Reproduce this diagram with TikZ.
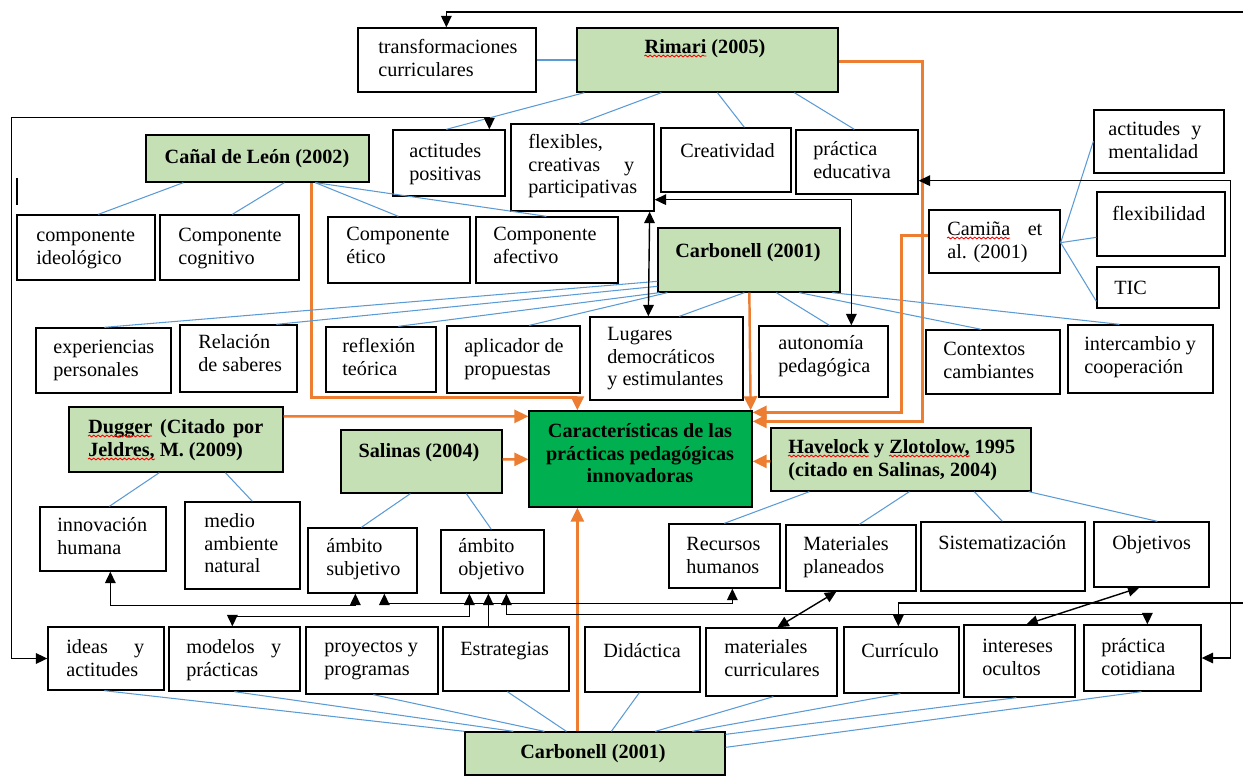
\documentclass[tikz,border=0pt]{standalone}
\usepackage{fontspec}
\setmainfont{Liberation Serif}
\usetikzlibrary{fit,arrows.meta,decorations.pathmorphing}
\definecolor{lgreen}{HTML}{C5E0B4}
\definecolor{dgreen}{HTML}{00B050}
\definecolor{lblue}{HTML}{5B9BD5}
\definecolor{orng}{HTML}{ED7D31}
\newcommand\fnt{\fontsize{11.5}{13}\selectfont}
\newcommand\strt{\rule{0pt}{9pt}}
\begin{document}
\begin{tikzpicture}[x=0.02cm,y=-0.02cm,
 box/.style={draw=black, line width=0.75pt, inner sep=0pt, fill=white},
 gbox/.style={box, fill=lgreen},
 dbox/.style={box, fill=dgreen},
 tx/.style={anchor=north west, inner sep=0pt, font=\fnt, align=left},
 txb/.style={tx, font=\fnt\bfseries},
 txc/.style={anchor=north, inner sep=0pt, font=\fnt\bfseries, align=center},
 bl/.style={draw=lblue, line width=0.6pt},
 og/.style={draw=orng, line width=1.4pt, -{Triangle[length=8pt,width=7.5pt]}},
 bk/.style={draw=black, line width=0.8pt, -{Triangle[length=6.5pt,width=6pt]}},
 bkk/.style={draw=black, line width=0.8pt, {Triangle[length=6.5pt,width=6pt]}-{Triangle[length=6.5pt,width=6pt]}},
 pl/.style={draw=black, line width=0.8pt},
 rw/.style={draw=red, line width=0.5pt, decorate, decoration={snake, amplitude=0.5pt, segment length=2.5pt}},
]
\useasboundingbox (0,0) rectangle (1243,777);

% ---------- boxes ----------
\node[box,  fit={(358,28)(536,92)}] (tr) {};
\node[gbox, fit={(577,28)(838,92)}] (rim) {};
\node[gbox, fit={(146,135)(369,182)}] (cl) {};
\node[box,  fit={(393,130)(505,196)}] (ap) {};
\node[box,  fit={(511,124)(654,211)}] (fx) {};
\node[box,  fit={(661,128)(791,192)}] (cr) {};
\node[box,  fit={(796,130)(918,194)}] (pe) {};
\node[box,  fit={(1094,110)(1224,173)}] (am) {};
\node[box,  fit={(17,215)(155,280)}] (ci) {};
\node[box,  fit={(160,215)(299,280)}] (cc) {};
\node[box,  fit={(328,217)(470,283)}] (ce) {};
\node[box,  fit={(476,217)(618,283)}] (ca) {};
\node[gbox, fit={(658,228)(840,292)}] (cm) {};
\node[box,  fit={(929,210)(1060,273)}] (cam) {};
\node[box,  fit={(1097,192)(1225,256)}] (fl) {};
\node[box,  fit={(1097,267)(1219,308)}] (tic) {};
\node[box,  fit={(36,328)(171,393)}] (ep) {};
\node[box,  fit={(180,325)(297,392)}] (rs) {};
\node[box,  fit={(326,327)(436,392)}] (rt) {};
\node[box,  fit={(447,326)(580,393)}] (apl) {};
\node[box,  fit={(590,317)(743,400)}] (lg) {};
\node[box,  fit={(759,326)(888,397)}] (au) {};
\node[box,  fit={(926,330)(1060,394)}] (cx) {};
\node[box,  fit={(1068,325)(1213,393)}] (ic) {};
\node[gbox, fit={(69,407)(283,472)}] (dg) {};
\node[gbox, fit={(341,430)(502,493)}] (sal) {};
\node[dbox, fit={(529,411)(752,507)}] (car) {};
\node[gbox, fit={(771,428)(1031,491)}] (hv) {};
\node[box,  fit={(40,507)(166,571)}] (ih) {};
\node[box,  fit={(185,502)(300,589)}] (ma) {};
\node[box,  fit={(308,528)(417,593)}] (asu) {};
\node[box,  fit={(441,530)(544,593)}] (ao) {};
\node[box,  fit={(669,524)(780,588)}] (rh) {};
\node[box,  fit={(786,525)(916,591)}] (mp) {};
\node[box,  fit={(921,522)(1085,591)}] (si) {};
\node[box,  fit={(1094,522)(1209,587)}] (ob) {};
\node[box,  fit={(48,627)(164,690)}] (ia) {};
\node[box,  fit={(169,627)(300,691)}] (mo) {};
\node[box,  fit={(306,627)(438,694)}] (pp) {};
\node[box,  fit={(443,627)(569,691)}] (es) {};
\node[box,  fit={(585,627)(700,692)}] (di) {};
\node[box,  fit={(706,628)(837,696)}] (mc) {};
\node[box,  fit={(844,627)(959,693)}] (cu) {};
\node[box,  fit={(964,625)(1075,697)}] (io) {};
\node[box,  fit={(1084,625)(1201,691)}] (pc) {};
\node[gbox, fit={(465,732)(725,775)}] (cb) {};

% ---------- connectors ----------
\coordinate (eR1) at (1243,12);
\coordinate (eR2) at (1243,603);
\coordinate (s1) at (17,178);
\coordinate (s2) at (17,205);
\draw[bk] (eR1) -| ([shift={(89,0)}]tr.north west);
\draw[bl] (tr.east) -- (rim.west);
\draw[bl] ([shift={(8,0)}]rim.south west) -- ([shift={(54,0)}]ap.north west);
\draw[bl] ([shift={(85,0)}]rim.south west) -- ([shift={(69,0)}]fx.north west);
\draw[bl] ([shift={(141,0)}]rim.south west) -- ([shift={(84,0)}]cr.north west);
\draw[bl] ([shift={(218,0)}]rim.south west) -- ([shift={(59,0)}]pe.north west);
\draw[og] ([shift={(0,34)}]rim.north east) -| ([shift={(170,11)}]car.north east) -- ([shift={(0,11)}]car.north east);

\draw[bkk] ([shift={(97,0)}]ap.north west) -- ([shift={(97,-12)}]ap.north west) -| ([shift={(-36,0)}]ia.west) -- (ia.west);
\draw[pl] (s1) -- (s2);

\draw[bl] ([shift={(38,0)}]cl.south west) -- ([shift={(82,0)}]ci.north west);
\draw[bl] ([shift={(139,0)}]cl.south west) -- ([shift={(73,0)}]cc.north west);
\draw[bl] ([shift={(170,0)}]cl.south west) -- ([shift={(71,0)}]ce.north west);
\draw[bl] ([shift={(170,0)}]cl.south west) -- ([shift={(71,0)}]ca.north west);
\draw[og] ([shift={(166,0)}]cl.south west) |- ([shift={(49,-13)}]car.north west) -- ([shift={(49,0)}]car.north west);

\draw[bl] ([shift={(0,54)}]cm.north west) -- ([shift={(69,0)}]ep.north west);
\draw[bl] ([shift={(0,59)}]cm.north west) -- ([shift={(97,0)}]rs.north west);
\draw[bl] ([shift={(2,0)}]cm.south west) -- ([shift={(73,0)}]rt.north west);
\draw[bl] ([shift={(10,0)}]cm.south west) -- ([shift={(83,0)}]apl.north west);
\draw[bl] ([shift={(87,0)}]cm.south west) -- ([shift={(90,0)}]lg.north west);
\draw[bl] ([shift={(119,0)}]cm.south west) -- ([shift={(71,0)}]au.north west);
\draw[bl] ([shift={(142,0)}]cm.south west) -- ([shift={(56,0)}]cx.north west);
\draw[bl] ([shift={(175,0)}]cm.south west) -- ([shift={(52,0)}]ic.north west);
\draw[og] ([shift={(92,0)}]cm.south west) -- ([shift={(-2,0)}]car.north east);
\draw[bkk] ([shift={(-5,0)}]fx.south east) -- ([shift={(59,0)}]lg.north west);
\draw[bkk] ([shift={(0,-12)}]fx.south east) -| ([shift={(93,0)}]au.north west);

\draw[bl] ([shift={(0,-31)}]cam.south east) -- ([shift={(0,32)}]am.north west);
\draw[bl] ([shift={(0,-31)}]cam.south east) -- ([shift={(0,46)}]fl.north west);
\draw[bl] ([shift={(0,-31)}]cam.south east) -- ([shift={(0,35)}]tic.north west);
\draw[og] ([shift={(0,26)}]cam.north west) -| ([shift={(149,2)}]car.north east) -- ([shift={(0,2)}]car.north east);

\draw[og] ([shift={(0,10)}]dg.north east) -- ([shift={(0,6)}]car.north west);
\draw[og] ([shift={(0,30)}]sal.north east) -- ([shift={(0,49)}]car.north west);
\draw[og] ([shift={(0,34)}]hv.north west) -- ([shift={(0,51)}]car.north east);
\draw[og] ([shift={(113,0)}]cb.north west) -- ([shift={(49,0)}]car.south west);

\draw[bl] ([shift={(91,0)}]dg.south west) -- ([shift={(70,0)}]ih.north west);
\draw[bl] ([shift={(157,0)}]dg.south west) -- ([shift={(68,0)}]ma.north west);
\draw[bl] ([shift={(70,0)}]sal.south west) -- ([shift={(54,0)}]asu.north west);
\draw[bl] ([shift={(126,0)}]sal.south west) -- ([shift={(51,0)}]ao.north west);
\draw[bl] ([shift={(39,0)}]hv.south west) -- ([shift={(56,0)}]rh.north west);
\draw[bl] ([shift={(139,0)}]hv.south west) -- ([shift={(74,0)}]mp.north west);
\draw[bl] ([shift={(204,0)}]hv.south west) -- ([shift={(82,0)}]si.north west);
\draw[bl] ([shift={(-3,0)}]hv.south east) -- ([shift={(64,0)}]ob.north west);

\draw[bkk] ([shift={(71,0)}]ih.south west) |- ([shift={(48,12)}]asu.south west) -- ([shift={(48,0)}]asu.south west);
\draw[bkk] ([shift={(77,0)}]asu.south west) -- ([shift={(77,10)}]asu.south west) -| ([shift={(64,0)}]rh.south west);
\draw[bkk] ([shift={(64,0)}]mo.north west) |- ([shift={(29,23)}]ao.south west) -- ([shift={(29,0)}]ao.south west);
\draw[bk] ([shift={(46,0)}]es.north west) -- ([shift={(48,0)}]ao.south west);
\draw[bkk] ([shift={(66,0)}]ao.south west) -- ([shift={(66,21)}]ao.south west) -| ([shift={(64,0)}]pc.north west);
\draw[bk] (eR2) -| ([shift={(55,0)}]cu.north west);
\draw[bkk] ([shift={(72,0)}]mc.north west) -- ([shift={(51,0)}]mp.south west);
\draw[bkk] ([shift={(63,0)}]io.north west) -- ([shift={(46,0)}]ob.south west);
\draw[bkk] ([shift={(0,-14)}]pe.south east) -| ([shift={(29,0)}]pc.east) -- (pc.east);

\draw[bl] ([shift={(57,0)}]ia.south west) -- (cb.north west);
\draw[bl] ([shift={(66,0)}]mo.south west) -- ([shift={(49,0)}]cb.north west);
\draw[bl] ([shift={(68,0)}]pp.south west) -- ([shift={(80,0)}]cb.north west);
\draw[bl] ([shift={(65,0)}]es.south west) -- ([shift={(102,0)}]cb.north west);
\draw[bl] ([shift={(55,0)}]di.south west) -- ([shift={(147,0)}]cb.north west);
\draw[bl] ([shift={(68,0)}]mc.south west) -- ([shift={(191,0)}]cb.north west);
\draw[bl] ([shift={(57,0)}]cu.south west) -- ([shift={(228,0)}]cb.north west);
\draw[bl] ([shift={(53,0)}]io.south west) -- ([shift={(0,3)}]cb.north east);
\draw[bl] ([shift={(58,0)}]pc.south west) -- ([shift={(0,16)}]cb.north east);

% ---------- texts ----------
\node[tx]  (tr-t)  at (378,37)  {\strt transformaciones\\curriculares};
\node[txc] (rim-t) at (705,37)  {\strt Rimari (2005)};
\node[txc] (cl-t)  at (257,147) {\strt Cañal de León (2002)};
\node[tx]  (ap-t)  at (409,141) {\strt actitudes\\positivas};
\node[tx]  (fx-t)  at (528,132) {\strt flexibles,\\\makebox[2.12cm][s]{creativas y}\\participativas};
\node[tx]  (cr-t)  at (680,141) {\strt Creatividad};
\node[tx]  (pe-t)  at (813,139) {\strt práctica\\educativa};
\node[tx]  (am-t)  at (1108,119) {\strt\makebox[1.86cm][s]{actitudes y}\\mentalidad};
\node[tx]  (ci-t)  at (36,225)  {\strt componente\\ideológico};
\node[tx]  (cc-t)  at (178,225) {\strt Componente\\cognitivo};
\node[tx]  (ce-t)  at (346,224) {\strt Componente\\ético};
\node[tx]  (ca-t)  at (493,224) {\strt Componente\\afectivo};
\node[txc] (cm-t)  at (748,241) {\strt Carbonell (2001)};
\node[tx]  (cam-t) at (947,219) {\strt\makebox[1.9cm][s]{Camiña et}\\al. (2001)};
\node[tx]  (fl-t)  at (1112,204) {\strt flexibilidad};
\node[tx]  (tic-t) at (1114,278) {\strt TIC};
\node[tx]  (ep-t)  at (53,337)  {\strt experiencias\\personales};
\node[tx]  (rs-t)  at (198,332) {\strt Relación\\de saberes};
\node[tx]  (rt-t)  at (342,336) {\strt reflexión\\teórica};
\node[tx]  (apl-t) at (464,336) {\strt aplicador de\\propuestas};
\node[tx]  (lg-t)  at (607,324) {\strt Lugares\\democráticos\\y estimulantes};
\node[tx]  (au-t)  at (778,333) {\strt autonomía\\pedagógica};
\node[tx]  (cx-t)  at (943,339) {\strt Contextos\\cambiantes};
\node[tx]  (ic-t)  at (1084,334) {\strt intercambio y\\cooperación};
\node[txb] (dg-t)  at (88,417)  {\strt\makebox[3.5cm][s]{Dugger (Citado por}\\Jeldres, M. (2009)};
\node[txc] (sal-t) at (419,441) {\strt Salinas (2004)};
\node[txc] (car-t) at (640,421) {\strt Características de las\\prácticas pedagógicas\\innovadoras};
\node[txb] (hv-t)  at (788,437) {\strt Havelock y Zlotolow, 1995\\(citado en Salinas, 2004)};
\node[tx]  (ih-t)  at (57,515)  {\strt innovación\\humana};
\node[tx]  (ma-t)  at (204,511) {\strt medio\\ambiente\\natural};
\node[tx]  (asu-t) at (326,536) {\strt ámbito\\subjetivo};
\node[tx]  (ao-t)  at (458,536) {\strt ámbito\\objetivo};
\node[tx]  (rh-t)  at (686,534) {\strt Recursos\\humanos};
\node[tx]  (mp-t)  at (803,534) {\strt Materiales\\planeados};
\node[tx]  (si-t)  at (938,533) {\strt Sistematización};
\node[tx]  (ob-t)  at (1112,533) {\strt Objetivos};
\node[tx]  (ia-t)  at (66,637)  {\strt\makebox[1.56cm][s]{ideas y}\\actitudes};
\node[tx]  (mo-t)  at (186,637) {\strt\makebox[1.9cm][s]{modelos y}\\prácticas};
\node[tx]  (pp-t)  at (324,636) {\strt proyectos y\\programas};
\node[tx]  (es-t)  at (460,639) {\strt Estrategias};
\node[tx]  (di-t)  at (603,641) {\strt Didáctica};
\node[tx]  (mc-t)  at (724,637) {\strt materiales\\curriculares};
\node[tx]  (cu-t)  at (861,641) {\strt Currículo};
\node[tx]  (io-t)  at (982,636) {\strt intereses\\ocultos};
\node[tx]  (pc-t)  at (1101,636) {\strt práctica\\cotidiana};
\node[txc] (cb-t)  at (593,742) {\strt Carbonell (2001)};

% spell-check underlines
\draw[rw] ([shift={(0,19)}]rim-t.north west) -- ++(62,0);
\draw[rw] ([shift={(0,19)}]dg-t.north west) -- ++(64,0);
\draw[rw] ([shift={(0,42)}]dg-t.north west) -- ++(67,0);
\draw[rw] ([shift={(0,19)}]cam-t.north west) -- ++(63,0);
\draw[rw] ([shift={(0,19)}]hv-t.north west) -- ++(81,0);
\draw[rw] ([shift={(101,19)}]hv-t.north west) -- ++(81,0);
\end{tikzpicture}
\end{document}
